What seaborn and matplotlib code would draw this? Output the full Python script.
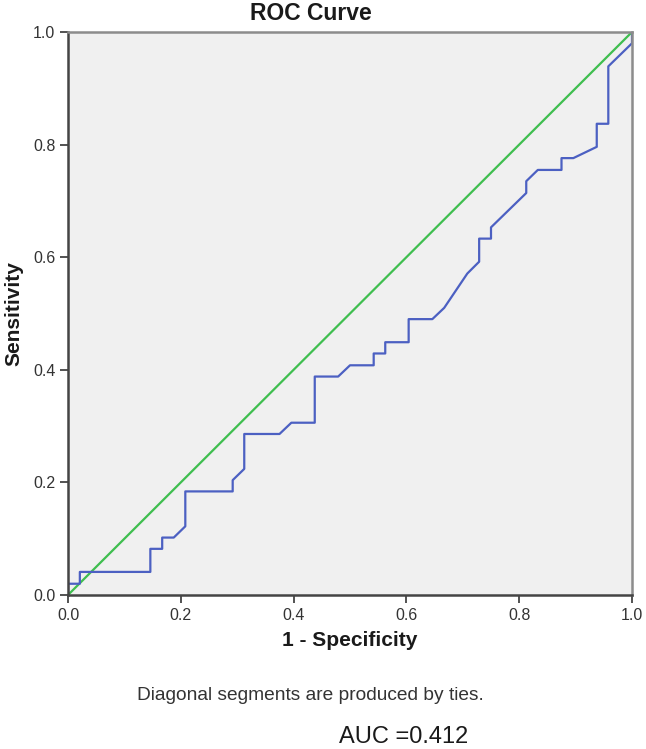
# ROC curve in the SPSS output style
import pandas as pd
import seaborn as sns
import matplotlib.pyplot as plt

# 1 - specificity and sensitivity of the ROC steps
fpr = [0.0, 0.0, 0.021, 0.021, 0.146, 0.146, 0.167, 0.167, 0.1875, 0.208,
       0.208, 0.292, 0.292, 0.3125, 0.3125, 0.375, 0.396, 0.4375, 0.4375,
       0.479, 0.5, 0.542, 0.542, 0.5625, 0.5625, 0.604, 0.604, 0.646, 0.667,
       0.708, 0.729, 0.729, 0.75, 0.75, 0.8125, 0.8125, 0.833, 0.875, 0.875,
       0.896, 0.9375, 0.9375, 0.958, 0.958, 1.0, 1.0]
tpr = [0.0, 0.02, 0.02, 0.041, 0.041, 0.082, 0.082, 0.102, 0.102, 0.122,
       0.184, 0.184, 0.204, 0.224, 0.286, 0.286, 0.306, 0.306, 0.388,
       0.388, 0.408, 0.408, 0.429, 0.429, 0.449, 0.449, 0.49, 0.49, 0.51,
       0.571, 0.592, 0.633, 0.633, 0.653, 0.714, 0.735, 0.755, 0.755, 0.776,
       0.776, 0.796, 0.837, 0.837, 0.939, 0.98, 1.0]

# reference line
diag_x = [0.0, 1.0]
diag_y = [0.0, 1.0]

ticks = [0.0, 0.2, 0.4, 0.6, 0.8, 1.0]
tick_labels = ['0.0', '0.2', '0.4', '0.6', '0.8', '1.0']
auc_value = 0.412

roc = pd.DataFrame({'fpr': fpr, 'tpr': tpr})
ref = pd.DataFrame({'x': diag_x, 'y': diag_y})

sns.set_style('white')
plt.rcParams['font.family'] = ['Liberation Sans', 'DejaVu Sans']

fig = plt.figure(figsize=(6.46, 7.49), dpi=100)
ax = fig.add_axes([68 / 646, 1 - 595 / 749, 564 / 646, 563 / 749])
ax.set_facecolor('#F0F0F0')

sns.lineplot(data=ref, x='x', y='y', ax=ax, color='#3FBE4F', linewidth=1.6,
             estimator=None, sort=False)
sns.lineplot(data=roc, x='fpr', y='tpr', ax=ax, color='#4C60C2', linewidth=1.6,
             estimator=None, sort=False)

ax.set_xlim(0, 1)
ax.set_ylim(0, 1)
ax.set_xticks(ticks)
ax.set_xticklabels(tick_labels)
ax.set_yticks(ticks)
ax.set_yticklabels(tick_labels)
ax.tick_params(axis='both', direction='out', length=6, width=1.3,
               color='#444444', labelsize=11.5, labelcolor='#333333',
               bottom=True, left=True, pad=3)

for side in ['left', 'bottom']:
    ax.spines[side].set_color('#444444')
    ax.spines[side].set_linewidth(1.8)
for side in ['top', 'right']:
    ax.spines[side].set_color('#8C8C8C')
    ax.spines[side].set_linewidth(1.8)

ax.set_xlabel('1 - Specificity', fontsize=15, fontweight='bold',
              color='#1A1A1A', labelpad=6)
ax.set_ylabel('Sensitivity', fontsize=15, fontweight='bold',
              color='#1A1A1A', labelpad=7)
ax.set_title('ROC Curve', fontsize=16.5, fontweight='bold', color='#1A1A1A',
             x=0.43, pad=9)

fig.text(310 / 646, 1 - 695 / 749, 'Diagonal segments are produced by ties.',
         ha='center', va='center', fontsize=13.8, color='#333333')
fig.text(404 / 646, 1 - 737 / 749, f'AUC ={auc_value}',
         ha='center', va='center', fontsize=17, color='#1A1A1A')

fig.savefig('out.png', dpi=100)
